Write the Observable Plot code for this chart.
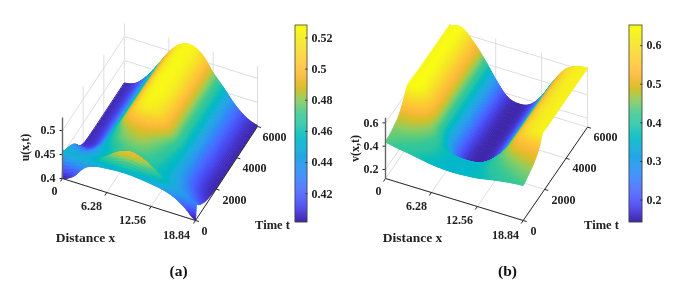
<!DOCTYPE html>
<html><head><meta charset="utf-8">
<script src="https://cdn.jsdelivr.net/npm/d3@7"></script>
<script src="https://cdn.jsdelivr.net/npm/@observablehq/plot@0.6"></script>
<style>html,body{margin:0;padding:0;background:#fff}#c{display:flex;width:683px}svg{display:block;filter:blur(.4px)}</style>
</head><body><div id="c"></div>
<script>
// ---- values ----
const xTicks = [0, 6.28, 12.56, 18.84];
const timeTicks = [0, 2000, 4000, 6000];
const xNodes = [0, 1.57, 3.14, 4.71, 6.28, 7.85, 9.42, 10.99, 12.56, 14.13, 15.7, 17.27, 18.84];

const uTicks = [0.4, 0.45, 0.5];
const uBarTicks = [0.42, 0.44, 0.46, 0.48, 0.5, 0.52];
const uTimes = [0, 90, 240, 480, 900, 1260, 1680, 2100, 3000, 6000];
const uGrid = [
 [.400,.412,.437,.447,.450,.452,.452,.450,.447,.443,.435,.420,.400],
 [.450,.450,.449,.455,.472,.487,.494,.489,.476,.458,.442,.432,.430],
 [.449,.448,.450,.456,.466,.476,.481,.478,.468,.456,.446,.436,.425],
 [.447,.443,.445,.453,.462,.468,.470,.468,.462,.454,.442,.430,.418],
 [.440,.435,.441,.453,.466,.474,.476,.473,.465,.453,.438,.422,.410],
 [.430,.425,.437,.457,.474,.481,.482,.477,.468,.454,.433,.415,.406],
 [.413,.415,.433,.460,.480,.490,.492,.484,.472,.455,.431,.412,.403],
 [.405,.410,.432,.463,.494,.515,.519,.508,.482,.457,.430,.411,.402],
 [.403,.410,.432,.463,.497,.520,.526,.514,.483,.457,.430,.411,.402],
 [.403,.410,.432,.463,.497,.520,.526,.514,.483,.457,.430,.411,.402]
];

const vTicks = [0.2, 0.4, 0.6];
const vBarTicks = [0.2, 0.3, 0.4, 0.5, 0.6];
const vTimes = [0, 600, 900, 1200, 1500, 1800, 2100, 3000, 6000];
const vGrid = [
 [.434,.415,.400,.382,.365,.355,.353,.358,.367,.385,.402,.415,.423],
 [.447,.440,.430,.410,.385,.360,.350,.352,.375,.410,.430,.445,.455],
 [.465,.462,.450,.425,.385,.355,.345,.350,.378,.420,.450,.465,.475],
 [.483,.485,.470,.440,.370,.290,.250,.280,.360,.435,.475,.495,.505],
 [.525,.530,.505,.440,.340,.220,.180,.210,.320,.435,.515,.540,.550],
 [.585,.590,.540,.440,.310,.190,.155,.180,.285,.428,.548,.605,.630],
 [.645,.650,.565,.440,.295,.175,.145,.170,.272,.425,.555,.615,.630],
 [.640,.650,.565,.440,.295,.175,.143,.168,.270,.425,.555,.615,.630],
 [.637,.650,.565,.440,.295,.175,.143,.168,.270,.425,.555,.615,.630]
];

const parulaStops = ["#3e26a8","#4435ce","#4746ee","#4758fa","#4669fe","#3b7bfd","#2e8df6","#2b9bee","#23a6e4","#19b0d9","#01b8ca","#0bbeb9","#2ac5a3","#37c897","#63cc7a","#95cc5e","#cac331","#e8bc2a","#fbba3c","#fec437","#fbcf30","#f8dc2b","#f6e723","#f7f21b","#f9fb14"];
const parula = d3.piecewise(d3.interpolateRgb, parulaStops);
const fontFamily = "'Liberation Serif', serif";

// Catmull-Rom smoothing between read nodes: shading of the surface, like a curve option on a line.
function cr(a, i, f) {
  const p = k => a[Math.max(0, Math.min(a.length - 1, k))];
  const p0 = p(i - 1), p1 = p(i), p2 = p(i + 1), p3 = p(i + 2);
  return 0.5 * (2*p1 + (p2-p0)*f + (2*p0-5*p1+4*p2-p3)*f*f + (3*p1-p0-3*p2+p3)*f*f*f);
}

function panel(cfg) {
  const {o, xv, tv, k, zMin, zTop, w, times, grid, zTicks, barTicks, bar, barDomain} = cfg;
  const px = (x, t) => o[0] + x/18.84*xv[0] + t/6000*tv[0];
  const py = (x, t, z) => o[1] + x/18.84*xv[1] + t/6000*tv[1] - (z - zMin)*k;

  // surface, far quads first
  const SX = 8, ST = 8;
  const fineRows = [];
  for (let r = 0; r < times.length - 1; r++) for (let s = 0; s < ST; s++) {
    const f = s/ST;
    const smooth = grid[0].map((_, c) => cr(grid.map(row => row[c]), r, f));
    fineRows.push({t: times[r] + (times[r+1]-times[r])*f, zs: smooth});
  }
  fineRows.push({t: times[times.length-1], zs: grid[grid.length-1]});
  const fine = fineRows.map(({t, zs}) => {
    const pts = [];
    for (let c = 0; c < zs.length - 1; c++) for (let s = 0; s < SX; s++) {
      const f = s/SX;
      pts.push({x: xNodes[c] + (xNodes[c+1]-xNodes[c])*f, t, z: cr(zs, c, f)});
    }
    pts.push({x: xNodes[xNodes.length-1], t, z: zs[zs.length-1]});
    return pts;
  });
  const quads = [];
  let id = 0;
  for (let r = fine.length - 2; r >= 0; r--) for (let c = 0; c < fine[r].length - 1; c++) {
    const q = [fine[r][c], fine[r][c+1], fine[r+1][c+1], fine[r+1][c]];
    const v = d3.mean(q, d => d.z);
    for (const d of q) quads.push({id, v, sx: px(d.x, d.t), sy: py(d.x, d.t, d.z)});
    id++;
  }

  // walls and floor
  const gridSegs = [];
  for (const x of xTicks) {
    gridSegs.push({x1: px(x,0), y1: py(x,0,zMin), x2: px(x,6000), y2: py(x,6000,zMin)});
    if (x > 0) gridSegs.push({x1: px(x,6000), y1: py(x,6000,zMin), x2: px(x,6000), y2: py(x,6000,zTop)});
  }
  for (const t of timeTicks) {
    gridSegs.push({x1: px(0,t), y1: py(0,t,zMin), x2: px(18.84,t), y2: py(18.84,t,zMin)});
    if (t > 0) gridSegs.push({x1: px(0,t), y1: py(0,t,zMin), x2: px(0,t), y2: py(0,t,zTop)});
  }
  gridSegs.push({x1: px(0,6000), y1: py(0,6000,zMin), x2: px(0,6000), y2: py(0,6000,zTop)});
  for (const z of zTicks) {
    gridSegs.push({x1: px(0,0), y1: py(0,0,z), x2: px(0,6000), y2: py(0,6000,z)});
    gridSegs.push({x1: px(0,6000), y1: py(0,6000,z), x2: px(18.84,6000), y2: py(18.84,6000,z)});
  }

  // axes
  const axisSegs = [
    {x1: px(0,0), y1: py(0,0,zMin), x2: px(18.84,0), y2: py(18.84,0,zMin)},
    {x1: px(18.84,0), y1: py(18.84,0,zMin), x2: px(18.84,6000), y2: py(18.84,6000,zMin)}
  ];
  for (const x of xTicks) axisSegs.push({x1: px(x,0), y1: py(x,0,zMin), x2: px(x,0)-2, y2: py(x,0,zMin)+3});
  for (const t of timeTicks) axisSegs.push({x1: px(18.84,t), y1: py(18.84,t,zMin), x2: px(18.84,t)+3.5, y2: py(18.84,t,zMin)+1});
  const zAxis = [{x1: px(0,0), y1: py(0,0,zMin), x2: px(0,0), y2: py(0,0,zTop)}];
  for (const z of zTicks) axisSegs.push({x1: px(0,0)-3, y1: py(0,0,z), x2: px(0,0), y2: py(0,0,z)});

  // colour bar
  const barY = d3.scaleLinear().domain(barDomain).range([bar.y2, bar.y1]);
  const stripes = d3.range(0, 200).map(i => {
    const a = barDomain[0] + (barDomain[1]-barDomain[0])*i/200, b = barDomain[0] + (barDomain[1]-barDomain[0])*(i+1)/200;
    return {y1: barY(a), y2: barY(b), v: (a+b)/2};
  });
  const barTickSegs = barTicks.map(v => ({y: barY(v), x1: bar.x2-2.5, x2: bar.x2}));

  const T = cfg.text;
  const mk = (arr, opt = {}) => Plot.text(arr, {x: "x", y: "y", text: "s", fontFamily, fontWeight: "bold", fontSize: 12, fill: "#222", ...opt});
  const fmtBar = d => String(+d.toFixed(2));
  const plot = Plot.plot({
    width: w, height: 284, margin: 0,
    x: {domain: [0, w], range: [0, w], axis: null},
    y: {domain: [0, 284], range: [0, 284], axis: null},
    color: {type: "linear", domain: barDomain, interpolate: parula, clamp: true},
    style: {background: "#fff"},
    marks: [
      Plot.link(gridSegs, {x1:"x1", y1:"y1", x2:"x2", y2:"y2", stroke:"#dedede", strokeWidth:1}),
      Plot.line(quads, {x:"sx", y:"sy", z:"id", fill:"v", stroke:"v", strokeWidth:1, curve:"linear-closed"}),
      Plot.link(axisSegs, {x1:"x1", y1:"y1", x2:"x2", y2:"y2", stroke:"#2a2a2a", strokeWidth:1}),
      Plot.link(zAxis, {x1:"x1", y1:"y1", x2:"x2", y2:"y2", stroke:"#666", strokeWidth:1.4}),
      Plot.rect(stripes, {x1: bar.x1, x2: bar.x2, y1:"y1", y2:"y2", fill:"v", stroke:"v", strokeWidth:0.3}),
      Plot.rect([bar], {x1:"x1", x2:"x2", y1:"y1", y2:"y2", stroke:"#444", strokeWidth:0.8, fill:"none"}),
      Plot.link(barTickSegs, {x1:"x1", x2:"x2", y1:"y", y2:"y", stroke:"#333", strokeWidth:0.8}),
      mk(barTicks.map(v => ({x: bar.x2+4, y: barY(v), s: fmtBar(v)})), {textAnchor:"start"}),
      mk(zTicks.map(v => ({x: px(0,0)-7, y: py(0,0,v), s: String(v)})), {textAnchor:"end"}),
      mk(xTicks.map((v,i) => ({x: T.xLab[i][0], y: T.xLab[i][1], s: v === 0 ? "0" : v.toFixed(2)}))),
      mk(timeTicks.map((v,i) => ({x: T.tLab[i][0], y: T.tLab[i][1], s: String(v)}))),
      mk([{x:T.dist[0], y:T.dist[1], s:"Distance x"}], {fontSize:13.5}),
      mk([{x:T.time[0], y:T.time[1], s:"Time t"}], {fontSize:12.5}),
      mk([{x:T.zl[0], y:T.zl[1], s:T.zs}], {fontSize:12, rotate:-90}),
      mk([{x:T.cap[0], y:T.cap[1], s:T.caps}], {fontSize:15.5, fill:"#111"})
    ]
  });
  return plot;
}

const c = document.getElementById("c");
c.append(panel({
  o:[62,178], xv:[133,42], tv:[62,-94], k:480, zMin:.4, zTop:.527, w:340,
  times:uTimes, grid:uGrid, zTicks:uTicks, barTicks:uBarTicks,
  bar:{x1:295,x2:307,y1:25,y2:222}, barDomain:[.4015,.528],
  text:{xLab:[[54,191],[91,206],[132,220],[176,235]], tLab:[[204,231],[234,200],[254,168],[274,137]],
        dist:[85,237], time:[272,224], zl:[25,147], zs:"u(x,t)", cap:[178,271], caps:"(a)"}
}));
c.append(panel({
  o:[45,178], xv:[137.7,42], tv:[64.3,-93.3], k:116.5, zMin:.1227, zTop:.644, w:343,
  times:vTimes, grid:vGrid, zTicks:vTicks, barTicks:vBarTicks,
  bar:{x1:289,x2:302,y1:25,y2:222}, barDomain:[.142,.652],
  text:{xLab:[[38,191],[76,206],[119,220],[165,235]], tLab:[[193,231],[223,200],[244,168],[265,137]],
        dist:[72,237], time:[261,224], zl:[15,148], zs:"v(x,t)", cap:[167,271], caps:"(b)"}
}));
</script></body></html>
